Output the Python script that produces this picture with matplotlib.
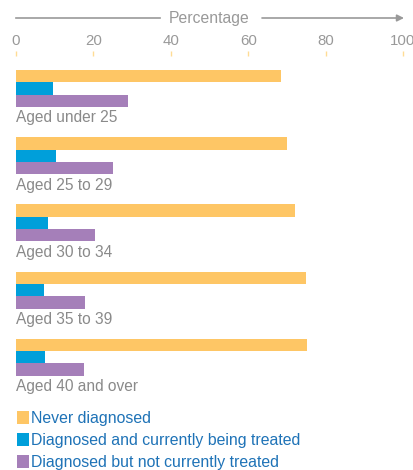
import matplotlib
matplotlib.use("Agg")
import matplotlib.pyplot as plt
from matplotlib.patches import Patch

categories = ["Aged under 25", "Aged 25 to 29", "Aged 30 to 34", "Aged 35 to 39", "Aged 40 and over"]
series_names = ["Never diagnosed", "Diagnosed and currently being treated", "Diagnosed but not currently treated"]
never = [68.5, 70.1, 72.1, 75.0, 75.3]
treated = [9.6, 10.3, 8.3, 7.2, 7.5]
not_treated = [29.0, 25.1, 20.4, 17.8, 17.6]
xticks = [0, 20, 40, 60, 80, 100]

colors = ["#FEC665", "#009FDA", "#A57FB9"]
gray = "#999999"
blue_text = "#1F73B7"
FONT = "Liberation Sans"

W, H = 413, 470
fig = plt.figure(figsize=(W / 100, H / 100), dpi=100)

# axes in pixel placement: top at y=56, bottom at y=400
top_px, bot_px = 56, 400
ax = fig.add_axes([16 / W, 1 - bot_px / H, 387 / W, (bot_px - top_px) / H])
ax.set_xlim(0, 100)
ax.set_ylim(bot_px, top_px)

bar_h = 12.3
group_step = 67.2
first_top = 70
for i, cat in enumerate(categories):
    g = first_top + i * group_step
    for j, vals in enumerate([never, treated, not_treated]):
        ax.barh(g + j * bar_h + bar_h / 2, vals[i], height=bar_h, color=colors[j], left=0, linewidth=0)
    ax.text(0, g + 3 * bar_h + 11, cat, ha="left", va="center", fontsize=11.2, color="#8a8a8a", family=FONT)

for s in ax.spines.values():
    s.set_visible(False)
ax.set_yticks([])
ax.xaxis.tick_top()
ax.set_xticks(xticks)
ax.set_xticklabels([str(t) for t in xticks], family=FONT)
ax.tick_params(axis="x", direction="out", length=3.6, width=1, color="#FFDC95", labelcolor=gray, labelsize=10.8, pad=2.5)

# Percentage arrow header
yf = 1 - 18 / H
fig.text(209 / W, yf, "Percentage", ha="center", va="center", fontsize=11.3, color=gray, family=FONT)
fig.add_artist(plt.Line2D([16 / W, 160 / W], [yf, yf], color=gray, lw=1.2, transform=fig.transFigure))
ax.annotate("", xy=(404 / W, yf), xytext=(262 / W, yf), xycoords="figure fraction", textcoords="figure fraction",
            arrowprops=dict(arrowstyle="-|>", color=gray, lw=1.2, mutation_scale=10, shrinkA=0, shrinkB=0))

handles = [Patch(facecolor=c, edgecolor="none") for c in colors]
leg = fig.legend(handles, series_names, loc="upper left", bbox_to_anchor=(17 / W, 1 - 411 / H),
                 frameon=False, handlelength=0.75, handleheight=0.85, handletextpad=0.12, labelspacing=0.45,
                 borderaxespad=0, borderpad=0, prop={"family": FONT, "size": 11.4})
for t in leg.get_texts():
    t.set_color(blue_text)

fig.savefig("out.png", dpi=100)
